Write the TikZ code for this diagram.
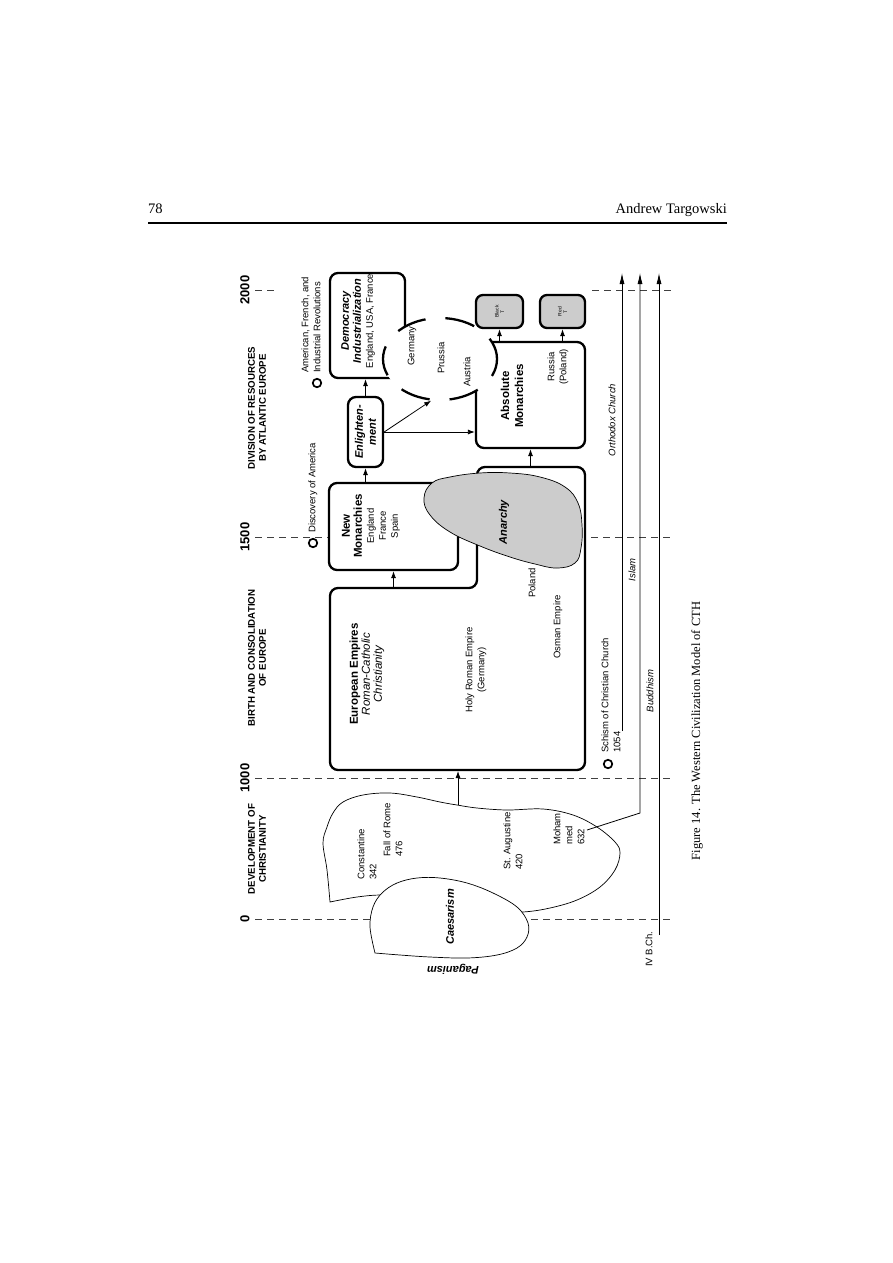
\documentclass[tikz,border=0pt]{standalone}
\usepackage{fontspec}
\setmainfont{Liberation Serif}
\setsansfont{Liberation Sans}
\usetikzlibrary{arrows.meta,shapes.geometric,positioning}

\newcommand{\fsLbl}{\sffamily\fontsize{9.5}{12}\selectfont}
\newcommand{\fsLblIt}{\sffamily\itshape\fontsize{9.5}{12}\selectfont}
\newcommand{\fsHead}{\sffamily\bfseries\fontsize{9.7}{11}\selectfont}
\newcommand{\fsBox}{\sffamily\bfseries\fontsize{11.5}{14}\selectfont}
\newcommand{\fsBoxIt}{\sffamily\bfseries\itshape\fontsize{11}{13}\selectfont}
\newcommand{\fsItal}{\sffamily\itshape\fontsize{11.5}{14}\selectfont}
\newcommand{\fsYear}{\sffamily\bfseries\fontsize{13}{14}\selectfont}
\newcommand{\fsTiny}{\sffamily\fontsize{5}{5.5}\selectfont}
\newcommand{\fsPage}{\fontsize{14.5}{16}\selectfont}

\begin{document}
\begin{tikzpicture}[x=1pt, y=-1pt]
  \tikzset{
    lbl/.style={rotate=90, inner sep=0pt, font=\fsLbl},
    rbox/.style={draw, fill=white, line width=2.3pt, rounded corners=8pt, inner sep=0pt},
    gbox/.style={rbox, fill=black!20, rounded corners=7pt},
    ring/.style={circle, draw, line width=1.7pt, inner sep=0pt, minimum size=8.5pt},
    tline/.style={black!75, line width=0.7pt, dash pattern=on 7pt off 5pt},
    blobline/.style={draw, line width=0.7pt},
    arr/.style={-{Latex[length=7pt,width=5pt]}, line width=0.8pt},
    tarr/.style={-{Latex[length=11pt,width=5pt]}, line width=0.8pt}
  }
  \useasboundingbox (0,0) rectangle (893,1263);

  % page head and caption
  \node[font=\fsPage, anchor=base west, inner sep=0pt] (pgNum) at (148,213) {78};
  \node[font=\fsPage, anchor=base east, inner sep=0pt] (pgAuth) at (727,213) {Andrew Targowski};
  \draw[line width=1.2pt] (148,223) -- (727,223);
  \node[rotate=90, font=\fontsize{12.5}{14}\selectfont, inner sep=0pt] (caption) at (697,731)
    {Figure 14. The Western Civilization Model of CTH};

  % time axis
  \foreach \yy in {537,778,919}
    \draw[tline] (255,\yy) -- (672,\yy);
  \draw[tline] (255,290) -- (277,290);
  \draw[tline] (592,290) -- (672,290);
  \foreach \yr/\yy in {0/919,1000/778,1500/537,2000/290}
    \node[lbl, font=\fsYear] (yr\yr) at (245,\yy) {\yr};
  \node[lbl, font=\fsHead, align=center] (hdChr) at (257,849) {DEVELOPMENT OF\\CHRISTIANITY};
  \node[lbl, font=\fsHead, align=center] (hdEur) at (257,658) {BIRTH AND CONSOLIDATION\\OF EUROPE};
  \node[lbl, font=\fsHead, align=center] (hdAtl) at (257,408) {DIVISION OF RESOURCES\\BY ATLANTIC EUROPE};

  % christianity and caesarism
  \draw[blobline, fill=white] plot[smooth, tension=0.6] coordinates {(330,902) (327,870) (323,843)
    (327,827) (333,813) (343,802) (363,795) (390,793) (417,797) (440,802) (457,805) (477,808)
    (507,810) (543,809) (573,815) (597,827) (615,842) (620,853) (615,870) (600,887) (577,900)
    (550,908) (523,912) (490,912) (450,905) (410,897) (382,895) (357,897) (330,902)} -- cycle;
  \draw[blobline, fill=white] plot[smooth, tension=0.6] coordinates {(375,953) (370,927) (373,907)
    (382,893) (397,883) (417,878) (440,878) (467,883) (493,893) (517,907) (528,923) (527,937)
    (517,948) (497,955) (467,958) (430,957) (400,955) (375,953)} -- cycle;
  \node[lbl, anchor=west, align=left] (constantine) at (367,880) {Constantine\\342};
  \node[lbl, anchor=west, align=left] (fallRome) at (393,857) {Fall of Rome\\476};
  \node[lbl, anchor=west, align=left] (augustine) at (513,870) {St. Augustine\\420};
  \node[lbl, anchor=west, align=left] (mohammed) at (569,845) {Moham\\med\\632};
  \node[lbl, font=\fsBoxIt] (caesar) at (450,917) {Caesarism};
  \node[rotate=180, font=\fsBoxIt, inner sep=0pt] (pagan) at (453,969) {Paganism};

  % european empires
  \coordinate (eeTop) at (330,588);
  \coordinate (anaTop) at (477,467);
  \coordinate (eeBot) at (458,771);
  \coordinate (chrTop) at (458,805);
  \draw[rbox] (330,680) -- (330,770) -- (585,770) -- (585,467) -- (477,467) -- (477,588)
    -- (330,588) -- cycle;
  \node[rbox, minimum width=129, minimum height=87] (nm) at (393.5,526.5) {};
  \draw[blobline, fill=black!20] plot[smooth cycle, tension=0.7] coordinates {(450,477) (480,473)
    (510,473) (540,477) (565,487) (578,503) (582,525) (581,548) (575,563) (557,568) (535,564)
    (510,557) (480,546) (450,532) (430,515) (424,498) (432,483)};
  \node[lbl, align=center] (eeTxt) at (367,674)
    {{\fsBox European Empires}\\{\fsItal Roman-Catholic}\\{\fsItal Christianity}};
  \node[lbl, align=center] (hre) at (476,670) {Holy Roman Empire\\(Germany)};
  \node[lbl] (poland) at (532,583) {Poland};
  \node[lbl] (osman) at (558,627) {Osman Empire};
  \node[lbl, font=\fsBoxIt] (anarchy) at (504,522) {Anarchy};
  \node[lbl, align=center] (nmTxt) at (371,526)
    {{\fsBox New}\\{\fsBox Monarchies}\\England\\France\\Spain};

  % atlantic europe
  \node[rbox, minimum width=75, minimum height=105] (dem) at (367.5,325.5) {};
  \node[rbox, minimum width=109, minimum height=106] (abs) at (530.5,395) {};
  \node[ellipse, draw, fill=white, line width=2.3pt, dash pattern=on 30pt off 20pt,
    dash phase=8pt, minimum width=114, minimum height=82] (ell) at (440,359) {};
  \node[gbox, minimum width=47, minimum height=33] (blk) at (499.5,311.5) {};
  \node[gbox, minimum width=45, minimum height=33] (red) at (562.5,311.5) {};
  \node[rbox, minimum width=35, minimum height=70] (enl) at (365.5,432) {};
  \node[lbl, align=center] (demTxt) at (358,321)
    {{\fsBoxIt Democracy}\\{\fsBoxIt Industrialization}\\England, USA, France};
  \node[lbl, font=\fsBox, align=center] (absTxt) at (512,396) {Absolute\\Monarchies};
  \node[lbl, align=center] (russia) at (558,367) {Russia\\(Poland)};
  \node[lbl, font=\fsBoxIt, align=center] (enlTxt) at (enl) {Enlighten-\\ment};
  \node[lbl, font=\fsTiny, align=center] (blkTxt) at (blk) {Black\\T};
  \node[lbl, font=\fsTiny, align=center] (redTxt) at (red) {Red\\T};
  \node[lbl] (germany) at (412,346) {Germany};
  \node[lbl] (prussia) at (441,358) {Prussia};
  \node[lbl] (austria) at (467,372) {Austria};

  % events
  \node[ring] (ringAm) at (317,383) {};
  \node[lbl, anchor=west, align=left] (revol) at (311,373) {American, French, and\\Industrial Revolutions};
  \node[ring] (ringDis) at (313,543) {};
  \node[lbl, anchor=west] (discov) at (313,533) {Discovery of America};
  \node[ring] (ringSch) at (608,764) {};
  \node[lbl, anchor=west, align=left] (schism) at (611,753) {Schism of Christian Church\\1054};
  \node[lbl, anchor=west] (ivbc) at (649,967) {IV B.Ch.};

  % links
  \draw[arr] (chrTop) -- (eeBot);
  \draw[arr] (nm.south |- eeTop) -- (nm.south);
  \draw[arr] (enl.south |- nm.north) -- (enl.south);
  \draw[arr] (enl.north) -- (enl.north |- dem.south);
  \draw[arr] (enl.east) -- (enl.east -| abs.west);
  \draw[arr] (enl.east) -- (ell.258);
  \draw[arr] (abs.south |- anaTop) -- (abs.south);
  \draw[arr] (abs.north -| blk.south) -- (blk.south);
  \draw[arr] (abs.north -| red.south) -- (red.south);

  % religions
  \coordinate (topY) at (0,273);
  \coordinate (orthS) at (622,731);
  \coordinate (islS) at (587,830);
  \coordinate (islK) at (640,813);
  \coordinate (budS) at (659,935);
  \draw[tarr] (orthS) -- (orthS |- topY);
  \draw[tarr] (islS) -- (islK) -- (islK |- topY);
  \draw[tarr] (budS) -- (budS |- topY);
  \node[lbl, font=\fsLblIt] (orthodox) at (612,420) {Orthodox Church};
  \node[lbl, font=\fsLblIt] (islam) at (632,570) {Islam};
  \node[lbl, font=\fsLblIt] (buddhism) at (650,691) {Buddhism};
\end{tikzpicture}
\end{document}
